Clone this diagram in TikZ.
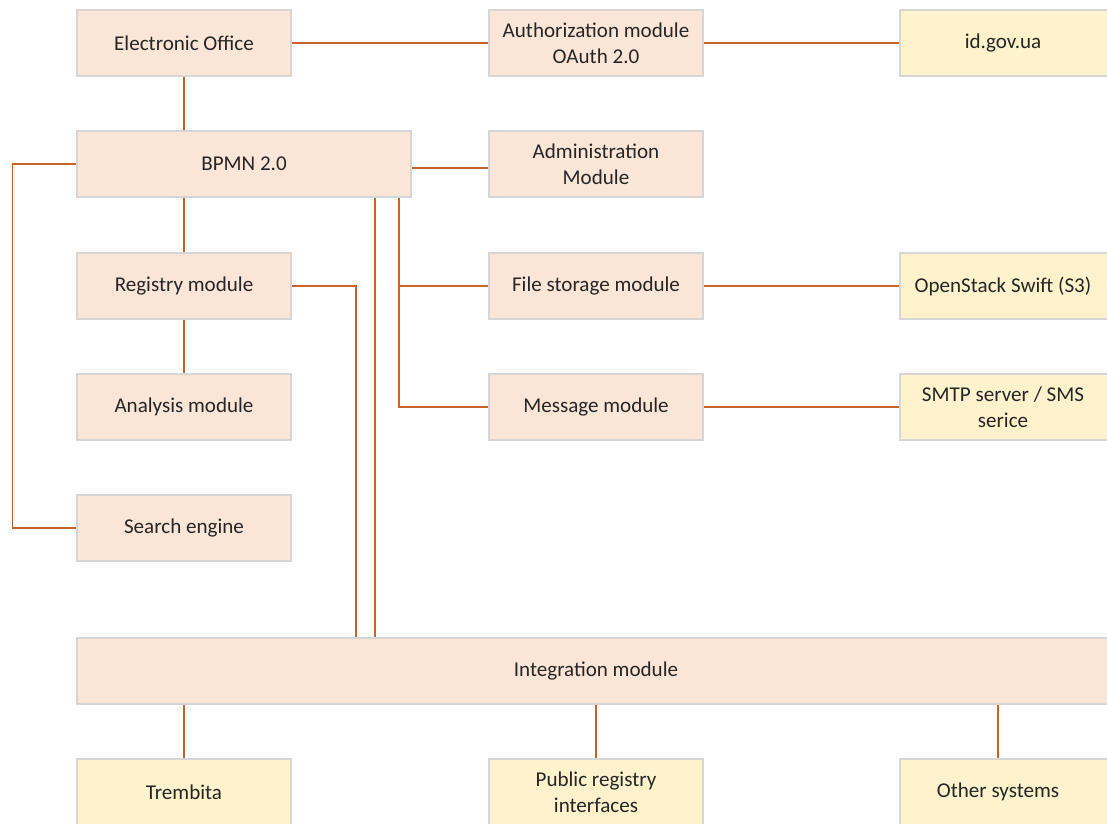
\documentclass[tikz,border=0pt]{standalone}
\usepackage{fontspec}
\setmainfont{Carlito}
\definecolor{peach}{HTML}{FBE5D6}
\definecolor{lightyel}{HTML}{FFF2CC}
\definecolor{bordergray}{HTML}{D6D6D6}
\definecolor{wire}{HTML}{C8642A}
\begin{document}
\begin{tikzpicture}[x=0.75pt,y=-0.75pt,
  box/.style={draw=bordergray,line width=1pt,fill=peach,minimum width=160.5pt,minimum height=49.5pt,
    align=center,inner sep=2pt,font=\fontsize{15.8pt}{19.5pt}\selectfont,text=black!85},
  ext/.style={box,fill=lightyel,minimum width=157.5pt},
  wide/.style={box,minimum width=250.5pt},
  conn/.style={draw=wire,line width=1.1pt}]
\useasboundingbox (0,0) rectangle (1107,824);
% nodes
\node[box] (eo) at (184,43) {Electronic Office};
\node[box] (auth) at (596,43) {Authorization module\\OAuth 2.0};
\node[ext] (id) at (1005,43) {};
\node at (1003,43) [font=\fontsize{15.8pt}{19.5pt}\selectfont,text=black!85] (idt) {id.gov.ua};
\node[wide] (bpmn) at (244,164) {BPMN 2.0};
\node[box] (admin) at (596,164) {Administration\\Module};
\node[box] (reg) at (184,286) {Registry module};
\node[box] (file) at (596,286) {File storage module};
\node[ext] (os) at (1005,286) {};
\node at (1003,286) [font=\fontsize{15.8pt}{19.5pt}\selectfont,text=black!85] (ost) {OpenStack Swift (S3)};
\node[box] (ana) at (184,407) {Analysis module};
\node[box] (msg) at (596,407) {Message module};
\node[ext] (smtp) at (1005,407) {};
\node at (1003,407) [font=\fontsize{15.8pt}{19.5pt}\selectfont,text=black!85,align=center] (smtpt) {SMTP server / SMS\\serice};
\node[box] (search) at (184,528) {Search engine};
\node[box,minimum width=775pt] (integ) at (593.5,671) {};
\node at (596,671) [font=\fontsize{15.8pt}{19.5pt}\selectfont,text=black!85] (integt) {Integration module};
\node[ext,minimum width=160.5pt] (trem) at (184,792) {Trembita};
\node[ext,minimum width=160.5pt] (pub) at (596,792) {Public registry\\interfaces};
\node[ext] (other) at (1005,792) {};
\node at (998,792) [font=\fontsize{15.8pt}{19.5pt}\selectfont,text=black!85] (othert) {Other systems};
% connectors
\draw[conn] (eo.east) -- (auth.west);
\draw[conn] (auth.east) -- (id.west);
\draw[conn] (eo.south) -- (bpmn.north -| eo.south);
\draw[conn] (bpmn.west) -- ++(-64,0) |- (search.west);
\draw[conn] (bpmn.east |- 0,168) -- (admin.west |- 0,168);
\draw[conn] (bpmn.south -| reg.north) -- (reg.north);
\draw[conn] (reg.south) -- (ana.north);
\draw[conn] (reg.east) -| (integ.north -| 356,0);
\draw[conn] (bpmn.south -| 375,0) -- (integ.north -| 375,0);
\draw[conn] (bpmn.south -| 399,0) |- (msg.west);
\draw[conn] (file.west -| 399,0) -- (file.west);
\draw[conn] (file.east) -- (os.west);
\draw[conn] (msg.east) -- (smtp.west);
\draw[conn] (integ.south -| trem.north) -- (trem.north);
\draw[conn] (integ.south -| pub.north) -- (pub.north);
\draw[conn] (integ.south -| 998,0) -- (other.north -| 998,0);
\end{tikzpicture}
\end{document}
